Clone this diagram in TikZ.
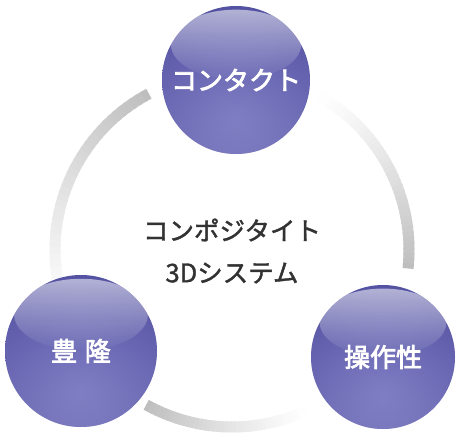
\documentclass[tikz,border=0pt]{standalone}
\usepackage{fontspec}
\newfontfamily\jpc[FakeBold=1.5]{Noto Sans CJK JP}
\newfontfamily\jpm[FakeBold=3]{Noto Sans CJK JP}
\usetikzlibrary{fadings}
\definecolor{sphA}{RGB}{118,116,190}
\definecolor{sphB}{RGB}{92,90,170}
\definecolor{sphC}{RGB}{72,70,150}
\definecolor{sphD}{RGB}{58,56,134}
\definecolor{sphGlow}{RGB}{150,148,206}
\definecolor{ringdark}{RGB}{190,190,190}
\definecolor{txtgray}{RGB}{50,50,50}
\pgfdeclareradialshading{sphshade}{\pgfpoint{0bp}{-14bp}}{color(0bp)=(sphA); color(24bp)=(sphB); color(48bp)=(sphC); color(64bp)=(sphD); color(100bp)=(sphD)}
\tikzfading[name=hlfade, top color=transparent!45, bottom color=transparent!100]
\tikzfading[name=glowfade, top color=transparent!100, middle color=transparent!100, bottom color=transparent!60]
\begin{document}
\begin{tikzpicture}[x=1pt,y=1pt,
  sphere/.style={circle, minimum size=2*#1, inner sep=0pt, text=white,
    font=\jpm\fontsize{26}{26}\selectfont,
    path picture={
      \coordinate (pc) at (path picture bounding box.center);
      \shade[shading=sphshade] (pc) circle (#1);
      \fill[sphGlow, path fading=glowfade] (pc) circle (#1);
      \fill[white, path fading=hlfade] ([yshift={0.48*#1}]pc) ellipse ({0.88*#1} and {0.47*#1});
    }},
  ringseg/.style={line width=11pt},
  centertext/.style={font=\jpc\fontsize{25.5}{42}\selectfont, text=txtgray, align=center}
]
\fill[white] (0,0) rectangle (457,437);
\useasboundingbox (0,0) rectangle (457,437);

% ring arcs, each fading in clockwise
\foreach \s/\e in {205/118, 62/-6, -64/-119} {
  \foreach \k in {0,...,39} {
    \pgfmathsetmacro\a{\s+(\e-\s)*\k/40}
    \pgfmathsetmacro\b{\s+(\e-\s)*min(\k+1.4,40)/40}
    \pgfmathtruncatemacro\p{100*(\k/39)^1.2}
    \draw[ringseg, ringdark!\p!white] (232,187) ++(\a:177) arc[start angle=\a, end angle=\b, radius=177];
  }
}

\node[sphere=74pt] (top) at (236,357) {コンタクト};
\node[sphere=76pt] (left) at (81,86) {豊\hspace{0.3em}隆};
\node[sphere=72pt] (right) at (383,80) {操作性};

\node[centertext] (center) at (232,186) {コンポジタイト\\3Dシステム};
\end{tikzpicture}
\end{document}
